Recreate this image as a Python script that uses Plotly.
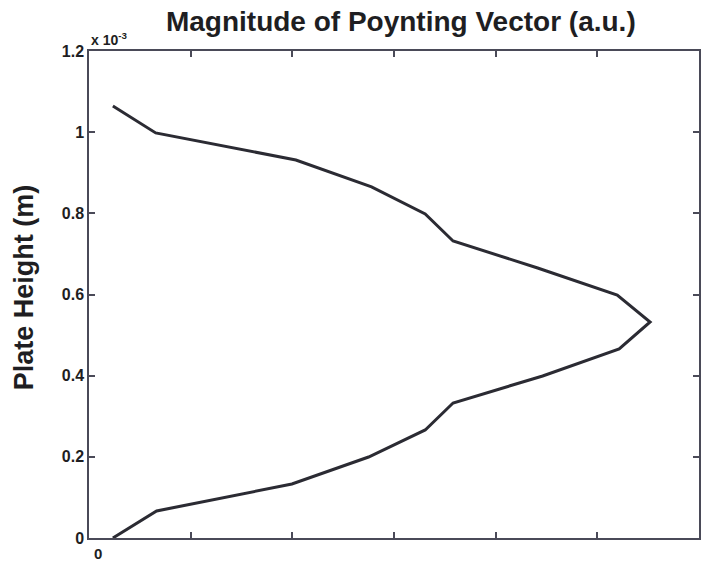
import plotly.graph_objects as go

# Poynting vector magnitude profile along the plate height
height_m = [0.0, 0.0665e-3, 0.1331e-3, 0.1996e-3, 0.2662e-3, 0.3327e-3, 0.3992e-3,
            0.4658e-3, 0.5323e-3, 0.5988e-3, 0.6654e-3, 0.7319e-3, 0.7985e-3,
            0.8650e-3, 0.9315e-3, 0.9981e-3, 1.0646e-3]
poynting_au = [0.235, 0.665, 1.996, 2.75, 3.307, 3.581, 4.462, 5.215, 5.519,
               5.196, 4.413, 3.581, 3.307, 2.779, 2.035, 0.656, 0.235]

y_ticks = [0.0, 0.2e-3, 0.4e-3, 0.6e-3, 0.8e-3, 1.0e-3, 1.2e-3]
y_tick_labels = ["0", "0.2", "0.4", "0.6", "0.8", "1", "1.2"]
x_ticks = [0, 1, 2, 3, 4, 5, 6]

axis_color = "#4a4a58"
text_color = "#1e1e22"
font_family = "Liberation Sans, Arial, sans-serif"

fig = go.Figure()
fig.add_trace(go.Scatter(
    x=poynting_au, y=height_m, mode="lines",
    line=dict(color="#2b2b33", width=3),
    showlegend=False, hoverinfo="skip",
))

fig.update_layout(
    width=702, height=562,
    margin=dict(l=89, r=1, t=51, b=24),
    paper_bgcolor="white", plot_bgcolor="white",
    font=dict(family=font_family, color=text_color),
    title=dict(
        text="<b>Magnitude of Poynting Vector (a.u.)</b>",
        x=0.571, xanchor="center", y=0.962, yanchor="middle",
        font=dict(size=28, family=font_family, color=text_color),
    ),
)

fig.update_xaxes(
    range=[0, 6], tickvals=x_ticks, showticklabels=False,
    ticks="inside", ticklen=6, tickcolor=axis_color, tickwidth=1.5,
    showline=True, linecolor=axis_color, linewidth=1.5, mirror="ticks",
    showgrid=False, zeroline=False,
)
fig.update_yaxes(
    range=[0, 1.2e-3], tickvals=y_ticks, ticktext=["<b>%s</b>" % t for t in y_tick_labels],
    tickfont=dict(size=16, family=font_family, color=text_color),
    ticks="inside", ticklen=6, tickcolor=axis_color, tickwidth=1.5,
    showline=True, linecolor=axis_color, linewidth=1.5, mirror="ticks",
    showgrid=False, zeroline=False,
)

# vertical axis title
fig.add_annotation(
    text="<b>Plate Height (m)</b>", textangle=-90, xref="paper", yref="paper",
    x=0.0, y=0.515, xanchor="right", yanchor="middle", xshift=-48, showarrow=False,
    font=dict(size=27, family=font_family, color=text_color),
)
# exponent marker above the y axis
fig.add_annotation(
    text="<b>x 10<sup>-3</sup></b>", xref="paper", yref="paper",
    x=0.0, y=1.0, xanchor="left", yanchor="bottom", yshift=1, showarrow=False,
    font=dict(size=14, family=font_family, color=text_color),
)
# x-axis origin label
fig.add_annotation(
    text="<b>0</b>", xref="x", yref="paper", x=0, y=0,
    xanchor="center", yanchor="top", xshift=9, yshift=-5, showarrow=False,
    font=dict(size=15, family=font_family, color=text_color),
)

fig.write_html("out.html")
